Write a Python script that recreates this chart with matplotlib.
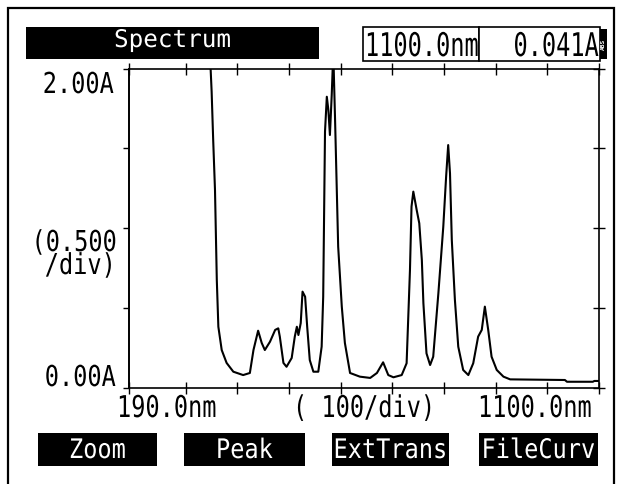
import matplotlib
matplotlib.use("Agg")
import matplotlib.pyplot as plt
from matplotlib.patches import Rectangle
from matplotlib.patheffects import AbstractPathEffect
from matplotlib.transforms import Affine2D

# Absorbance spectrum (nm, A); the curve runs off-scale above 2.00 A below ~350 nm
wavelength = [344, 348, 350, 353, 356.5, 360, 363, 369.5, 379, 392, 411, 424, 431, 440,
              447, 453, 463, 473, 479, 482, 489, 495, 505, 511, 515, 518, 522.5, 526,
              531, 535, 540, 547, 556.5, 563, 566, 569.5, 573, 576, 579, 582.5, 585.5,
              589, 595, 602, 608, 618, 637, 657, 670, 682, 692, 702, 718, 727.5, 734,
              737, 740.5, 747, 752, 757, 760, 766, 773, 779, 789, 798.5, 804, 808, 811.5,
              815, 821, 827.5, 837, 847, 856.5, 866, 873, 879, 885.5, 892, 902, 915, 928,
              1034, 1038, 1088, 1091, 1100]
absorbance = [2.40, 2.00, 1.855, 1.552, 1.238, 0.674, 0.381, 0.235, 0.154, 0.099, 0.078,
              0.091, 0.235, 0.356, 0.279, 0.235, 0.287, 0.361, 0.371, 0.319, 0.154, 0.130,
              0.185, 0.319, 0.381, 0.329, 0.404, 0.601, 0.569, 0.381, 0.172, 0.099, 0.099,
              0.256, 0.569, 1.604, 1.823, 1.740, 1.583, 1.834, 2.10, 1.677, 0.883, 0.507,
              0.279, 0.091, 0.068, 0.060, 0.091, 0.158, 0.078, 0.064, 0.078, 0.152, 0.737,
              1.134, 1.228, 1.113, 1.030, 0.799, 0.528, 0.214, 0.141, 0.193, 0.591, 1.008,
              1.322, 1.520, 1.343, 0.925, 0.549, 0.256, 0.110, 0.078, 0.152, 0.319, 0.361,
              0.507, 0.361, 0.193, 0.110, 0.068, 0.051, 0.047, 0.036, 0.036, 0.041, 0.041]

x_range = (190.0, 1100.0)
y_range = (0.0, 2.0)
x_ticks = [190, 300, 400, 500, 600, 700, 800, 900, 1000, 1100]
y_ticks = [0.0, 0.5, 1.0, 1.5, 2.0]

title_text = "Spectrum"
cursor_wl = "1100.0nm"
cursor_abs = "0.041A"
y_top_label = "2.00A"
y_bottom_label = "0.00A"
y_scale_label = ["(0.500", "/div)"]
x_left_label = "190.0nm"
x_mid_label = "( 100/div)"
x_right_label = "1100.0nm"
buttons = ["Zoom", "Peak", "ExtTrans", "FileCurv"]

W, H = 621, 484
plt.rcParams["font.family"] = ["DejaVu Sans Mono"]
FS = 17


class TallGlyphs(AbstractPathEffect):
    """Stretch glyphs vertically about their baseline (narrow LCD-style lettering)."""

    def __init__(self, sy):
        super().__init__()
        self.sy = sy

    def draw_path(self, renderer, gc, tpath, affine, rgbFace=None):
        renderer.draw_path(gc, tpath, Affine2D().scale(1.0, self.sy) + affine, rgbFace)


fig = plt.figure(figsize=(W / 100, H / 100), dpi=100)
fig.patch.set_facecolor("white")


def fx(x):
    return x / W


def fy(y):
    return 1 - y / H


def box(x0, y0, x1, y1, face, edge="black", lw=1.2):
    fig.add_artist(Rectangle((fx(x0), fy(y1)), fx(x1) - fx(x0), fy(y0) - fy(y1),
                             transform=fig.transFigure, facecolor=face,
                             edgecolor=edge, lw=lw))


def label(x, y, s, ha="left", color="black", size=FS, sy=1.0, **kw):
    fig.text(fx(x), fy(y), s, ha=ha, va="baseline", color=color, fontsize=size,
             path_effects=[TallGlyphs(sy)], **kw)


# screen frame
box(7.5, 7.5, 614, 495, "none", lw=1.6)

# plot area
ax = fig.add_axes([fx(129), fy(387.5), (599 - 129) / W, (387.5 - 68.5) / H])
ax.plot(wavelength, absorbance, color="black", lw=1.5)
ax.set_xlim(*x_range)
ax.set_ylim(*y_range)
for sp in ax.spines.values():
    sp.set_linewidth(1.2)
ax.set_xticks(x_ticks)
ax.set_yticks(y_ticks)
ax.tick_params(axis="x", direction="inout", length=8, width=1.0, top=True, bottom=True,
               labelbottom=False, labeltop=False)
ax.tick_params(axis="y", direction="inout", length=8, width=1.0, left=False, right=True,
               labelleft=False, labelright=False)
sec = ax.secondary_yaxis("left")
sec.set_yticks(y_ticks)
sec.tick_params(direction="out", length=4, width=1.0, labelleft=False)
sec.spines["left"].set_linewidth(1.2)

# header
box(26, 27, 319, 59, "black", lw=0)
label(172.5, 47, title_text, ha="center", color="white", size=FS + 0.5)
box(363, 27, 479, 61, "white", lw=1.2)
box(479, 27, 600, 61, "white", lw=1.2)
label(365, 56, cursor_wl, sy=1.38)
label(599, 56, cursor_abs, ha="right", sy=1.38)
box(600, 29, 607, 59, "black", lw=0)
fig.text(fx(603.5), fy(44), "ABS", ha="center", va="center", rotation=90,
         color="white", fontsize=4.5, fontweight="bold")

# axis annotations
label(114, 93, y_top_label, ha="right", sy=1.22)
label(116, 386, y_bottom_label, ha="right", sy=1.22)
label(117, 251, y_scale_label[0], ha="right", sy=1.22)
label(116, 274, y_scale_label[1], ha="right", sy=1.22)
label(117, 417, x_left_label, sy=1.27)
label(293, 417, x_mid_label, sy=1.27)
label(592, 417, x_right_label, ha="right", sy=1.27)

# soft keys
for name, (x0, x1) in zip(buttons, [(38, 157), (184, 305), (332, 449), (479, 598)]):
    box(x0, 433, x1, 466, "black", lw=0)
    label((x0 + x1) / 2, 458, name, ha="center", color="white", sy=1.14)

fig.savefig("out.png", dpi=100, facecolor="white")
